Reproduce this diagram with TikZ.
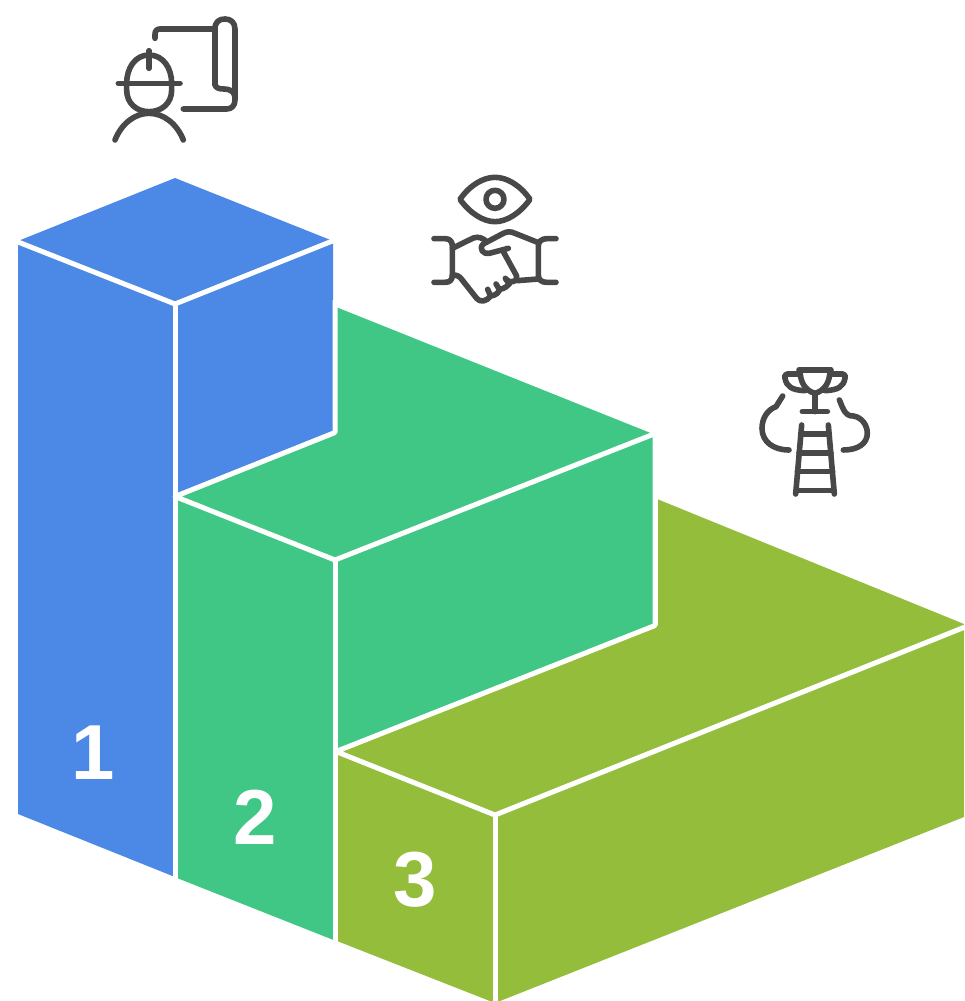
\documentclass[tikz,border=0pt]{standalone}
\usepackage{fontspec}
\setmainfont{Liberation Sans}
\definecolor{cblue}{HTML}{4C88E6}
\definecolor{cgreen}{HTML}{40C785}
\definecolor{colive}{HTML}{93BD3B}
\definecolor{cicon}{HTML}{484848}
\tikzset{
  numlabel/.style={text=white,font=\fontsize{78}{78}\selectfont\bfseries,inner sep=0pt},
  seam/.style={draw=white,line width=5pt,line join=round},
  iconline/.style={draw=cicon,line width=5.6pt,line cap=round,line join=round,fill=none},
  iconscope/.style={x=0.3333pt,y=-0.3333pt}
}
\begin{document}
\begin{tikzpicture}[x=1pt,y=-1pt]
\useasboundingbox (0,0) rectangle (964,1001);
% step 3
\fill[colive] (657,499) -- (964,624) -- (964,817) -- (495,1003) -- (337,941) -- (337,751) -- (655,625) -- cycle;
% step 2
\fill[cgreen] (336,307) -- (653,434) -- (655,624) -- (336,751) -- (336,941) -- (177,878) -- (177,496) -- (336,432) -- cycle;
% step 1
\fill[cblue] (175,178) -- (333,241) -- (333,432) -- (177,494) -- (175,877) -- (18,814) -- (18,241) -- cycle;
% seams between faces
\draw[seam] (10,238.8) -- (175,304) -- (340,238);
\draw[seam] (175,304) -- (175,880);
\draw[seam] (335,300) -- (335,432.5) -- (175,496.5) -- (335,560) -- (654,434);
\draw[seam] (335,560) -- (335,945);
\draw[seam] (655,432) -- (655,625.5) -- (336,751.5) -- (495,815) -- (970,625);
\draw[seam] (655,625) -- (655,495);
\draw[seam] (495,815) -- (495,1005);
% numbers
\node[numlabel] (n1) at (93,753) {1};
\node[numlabel] (n2) at (255,817) {2};
\node[numlabel] (n3) at (415,880) {3};
% icon 1
\begin{scope}[shift={(100,5)},iconscope]
\draw[iconline] (165,100) -- (165,88) .. controls (165,78) and (170,72) .. (180,72) -- (345,72);
\draw[iconline] (345,240) -- (345,72) .. controls (345,50) and (358,42) .. (375,42) .. controls (392,42) and (405,52) .. (405,72) -- (405,285) .. controls (405,302) and (395,312) .. (380,312) -- (250,312);
\draw[iconline] (345,238) .. controls (347,250) and (358,252) .. (372,252) .. controls (388,252) and (402,258) .. (405,275);
\draw[iconline] (80,235) .. controls (80,190) and (105,150) .. (147,150) .. controls (190,150) and (215,190) .. (215,235) -- (215,255) .. controls (215,295) and (185,320) .. (147,320) .. controls (110,320) and (80,295) .. (80,255) -- cycle;
\draw[iconline] (55,235) -- (240,235);
\draw[iconline] (147,137) -- (147,190);
\draw[iconline] (45,405) .. controls (65,355) and (105,325) .. (147,325) .. controls (190,325) and (230,355) .. (250,405);
\end{scope}
% icon 2
\begin{scope}[shift={(420,170)},iconscope]
\draw[iconline] (120,88) .. controls (150,45) and (190,22) .. (225,22) .. controls (260,22) and (300,45) .. (330,88) .. controls (300,130) and (260,155) .. (225,155) .. controls (190,155) and (150,130) .. (120,88) -- cycle;
\draw[iconline] (225,88) circle [radius=27];
\draw[iconline] (42,206) -- (75,206) .. controls (90,206) and (97,215) .. (97,228) -- (97,315) .. controls (97,330) and (90,337) .. (75,337) -- (42,337);
\draw[iconline] (408,206) -- (380,206) .. controls (365,206) and (355,215) .. (355,228) -- (355,315) .. controls (355,330) and (365,337) .. (380,337) -- (408,337);
\draw[iconline] (97,235) -- (160,204) .. controls (175,198) and (190,205) .. (200,215);
\draw[iconline] (265,235) -- (208,250) .. controls (190,255) and (175,235) .. (190,222) -- (250,190) .. controls (262,184) and (272,184) .. (285,190) -- (355,218);
\draw[iconline] (355,327) -- (292,332);
\draw[iconline] (250,245) -- (290,318) .. controls (295,335) and (270,342) .. (258,328);
\draw[iconline] (97,315) .. controls (110,315) and (118,318) .. (125,328) -- (170,385) .. controls (180,398) and (200,395) .. (212,378) .. controls (225,378) and (240,365) .. (238,358);
\draw[iconline] (238,358) .. controls (252,358) and (268,345) .. (268,338);
\draw[iconline] (203,358) -- (212,378);
\draw[iconline] (228,342) -- (238,358);
\draw[iconline] (256,325) -- (268,342);
\end{scope}
% icon 3
\begin{scope}[shift={(750,360)},iconscope]
\draw[iconline] (147,30) -- (243,30);
\draw[iconline] (150,30) .. controls (150,65) and (165,92) .. (195,100) .. controls (225,92) and (240,65) .. (240,30);
\draw[iconline] (150,42) -- (112,42) .. controls (105,42) and (103,47) .. (105,55) .. controls (110,80) and (125,90) .. (165,92);
\draw[iconline] (240,42) -- (278,42) .. controls (285,42) and (287,47) .. (285,55) .. controls (280,80) and (265,90) .. (225,92);
\draw[iconline] (195,100) -- (195,155);
\draw[iconline] (157,155) -- (232,155);
\draw[iconline] (98,108) -- (78,140) .. controls (50,150) and (36,178) .. (36,205) .. controls (36,245) and (70,270) .. (117,270);
\draw[iconline] (268,120) .. controls (276,135) and (282,170) .. (310,168) .. controls (335,172) and (352,195) .. (352,220) .. controls (352,250) and (325,270) .. (280,270);
\draw[iconline] (155,195) -- (137,402);
\draw[iconline] (235,195) -- (253,402);
\draw[iconline] (152,222) -- (238,222);
\draw[iconline] (147,279) -- (243,279);
\draw[iconline] (142,335) -- (248,335);
\draw[iconline] (138,392) -- (252,392);
\end{scope}
\end{tikzpicture}
\end{document}
